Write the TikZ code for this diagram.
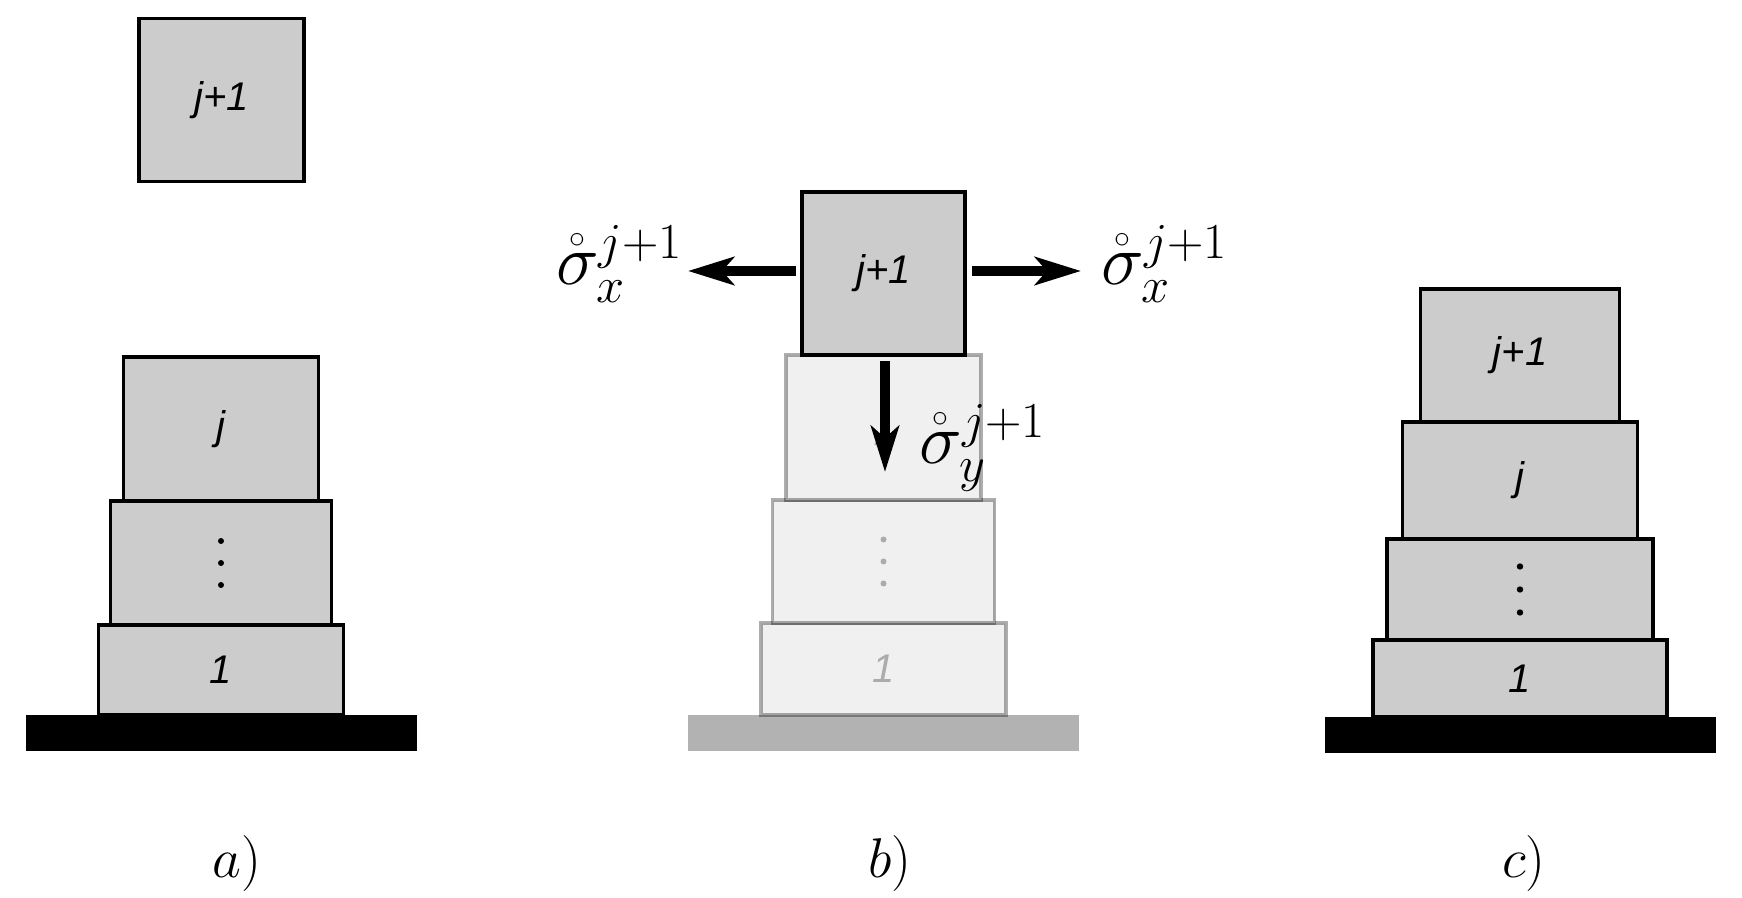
\documentclass[tikz,border=0pt]{standalone}
\usepackage{fix-cm}
\usepackage{amsmath}
\usepackage{fontspec}
\newfontfamily\blockfont{Liberation Sans}
\usetikzlibrary{arrows.meta,positioning}

\begin{document}
\begin{tikzpicture}[
    x=0.5pt, y=-0.5pt,
    node distance=0pt,
    block/.style={
        rectangle, draw=black, fill=black!20,
        line width=1.7pt, inner sep=0pt, outer sep=0pt,
        font=\fontsize{20}{24}\blockfont\itshape
    },
    ghost/.style={
        block, draw=black, draw opacity=0.32,
        fill=black!6, text=black!33
    },
    ground/.style={
        rectangle, fill=black, draw=none,
        minimum width=195.5pt, minimum height=18pt,
        inner sep=0pt, outer sep=0pt
    },
    force/.style={
        -{Stealth[length=23pt, width=14pt, inset=6pt]},
        line width=5pt
    },
    stress/.style={
        inner sep=0pt, font=\fontsize{36}{40}\selectfont
    },
    caption/.style={
        inner sep=0pt, font=\fontsize{28}{32}\selectfont
    }
]

    \useasboundingbox (0,0) rectangle (1742,898);

    % a) stack with the next block still lifted
    \node [ground] (grounda) at (221,733) {};
    \node [block, minimum width=122.5pt, minimum height=45pt, above=of grounda] (a1) {1};
    \node [block, minimum width=110.5pt, minimum height=62pt, above=of a1] (adots) {};
    \node [block, minimum width=97.5pt, minimum height=72pt, above=of adots] (aj) {j};
    \node [block, minimum width=82.5pt, minimum height=81.5pt] (atop) at (221.5,100) {j+1};
    \foreach \dy in {-22,0,22} \fill (adots.center) ++(0,\dy) circle (1.5pt);

    % b) stresses on the new block
    \node [ground, fill=black!30] (groundb) at (883.5,733) {};
    \node [ghost, minimum width=122.5pt, minimum height=46pt, above=of groundb] (b1) {1};
    \node [ghost, minimum width=111pt, minimum height=61.5pt, above=of b1] (bdots) {};
    \node [ghost, minimum width=97.5pt, minimum height=72.5pt, above=of bdots] (bj) {j};
    \node [block, minimum width=81.5pt, minimum height=81.5pt, above=of bj] (btop) {j+1};
    \foreach \dy in {-22,0,22} \fill [black!33] (bdots.center) ++(0,\dy) circle (1.5pt);

    \node [stress, anchor=base east] (sxleft) at (683,285) {$\mathring{\sigma}^{j+1}_x$};
    \node [stress, anchor=base west] (sxright) at (1101,285) {$\mathring{\sigma}^{j+1}_x$};
    \node [stress, anchor=base west] (sy) at (919,464) {$\mathring{\sigma}^{j+1}_y$};

    \coordinate (lefttip) at (688,271);
    \coordinate (righttip) at (1081,271);
    \coordinate (downtip) at (885,472);
    \draw [force] (btop.west) ++(-6,-2.5) -- (lefttip);
    \draw [force] (btop.east) ++(7,-2.5) -- (righttip);
    \draw [force] (btop.south) ++(1.5,6) -- (downtip);

    % c) stack after placing the block
    \node [ground] (groundc) at (1520,735) {};
    \node [block, minimum width=147pt, minimum height=38.5pt, above=of groundc] (c1) {1};
    \node [block, minimum width=133pt, minimum height=50.5pt, above=of c1] (cdots) {};
    \node [block, minimum width=117.5pt, minimum height=58.5pt, above=of cdots] (cj) {j};
    \node [block, minimum width=99.5pt, minimum height=66.5pt, above=of cj] (ctop) {j+1};
    \foreach \dy in {-23,0,23} \fill (cdots.center) ++(0,\dy) circle (1.6pt);

    % captions
    \node [caption, anchor=base] (capa) at (237,877) {$a)$};
    \node [caption, anchor=base] (capb) at (890,877) {$b)$};
    \node [caption, anchor=base] (capc) at (1524,877) {$c)$};

\end{tikzpicture}
\end{document}
